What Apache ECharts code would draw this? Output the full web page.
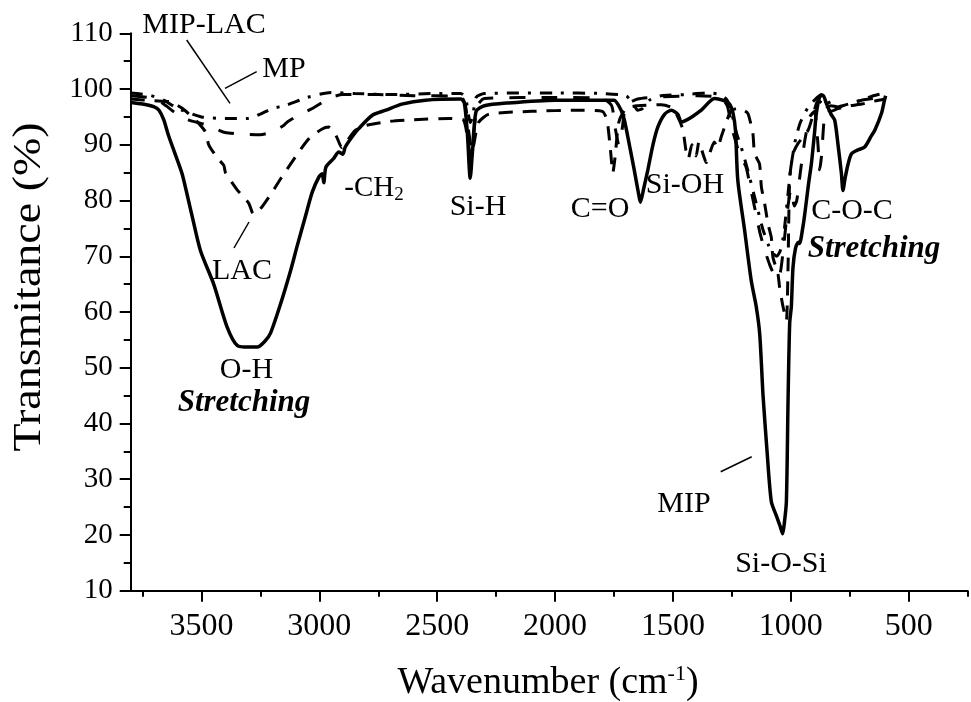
<!DOCTYPE html>
<html>
<head>
<meta charset="utf-8">
<script src="https://cdn.jsdelivr.net/npm/echarts@6/dist/echarts.min.js"></script>
<style>
html,body{margin:0;padding:0;background:#fff;}
#chart{width:971px;height:702px;}
</style>
</head>
<body>
<div id="chart"></div>
<script>
// ---- Data (wavenumber in cm-1, transmittance in %) ----
const xMajorTicks = [3500, 3000, 2500, 2000, 1500, 1000, 500];
const xMinorTicks = [3750, 3250, 2750, 2250, 1750, 1250, 750, 250];

const mipWave = [3800,3750,3700,3680,3660,3640,3600,3580,3540,3504,3448,3391,3348,3300,3263,3230,3207,3164,3122,3093,3060,3030,3002,2988,2981,2972,2940,2917,2900,2890,2860,2833,2775,2718,2650,2550,2400,2385,2372,2360,2350,2335,2300,2200,2000,1800,1750,1720,1706,1685,1664,1645,1638,1625,1607,1585,1564,1535,1507,1480,1465,1450,1420,1380,1324,1290,1260,1245,1235,1225,1196,1168,1147,1132,1118,1101,1083,1062,1045,1035,1028,1019,1012,1005,998,991,980,968,963,950,941,925,913,900,892,878,864,850,830,814,800,786,779,770,757,743,720,687,660,644,616,603,598];
const mipT    = [97.6,97.3,96.8,96.2,94.5,91.7,87,84.5,77.3,71,65,57.3,54,53.7,53.7,54.8,56.2,61.5,67.4,72,77,81.5,84.2,84.8,83.2,86,87.5,88.7,88.3,89.6,91.5,92.9,95.3,96.2,97.3,98,98.2,97.5,92,84,89,96,97,97.5,98,98,98,96.2,94.4,90,85.4,81,79.7,82,85.4,90,93.2,95.5,96.2,95.5,94.1,94.3,95,96.2,98.3,98,97.3,95.6,92.6,83.6,74.6,65.6,61,56,45,35,26,23.5,21.5,20.2,22,26,44,58,61,68,71.5,72.5,72.3,75,77.6,83,86.6,92,95.6,98.6,98.9,97.5,95.5,94.4,90,85,81.8,84,86.6,88.4,89,89.6,91.5,92.6,95.6,98,98.8];

const lacWave = [3800,3700,3630,3580,3520,3483,3469,3430,3405,3398,3350,3299,3280,3250,3200,3164,3087,3044,2990,2960,2940,2924,2905,2885,2850,2800,2700,2600,2450,2390,2372,2358,2345,2325,2280,2100,1900,1800,1780,1765,1755,1745,1730,1700,1650,1550,1500,1460,1445,1435,1420,1402,1390,1370,1359,1340,1325,1310,1295,1270,1255,1230,1200,1182,1161,1154,1133,1125,1111,1097,1083,1076,1055,1048,1033,1019,1012,1005,990,970,927,905,885,870,850,830,800,750,700,650,600];
const lacT    = [98.2,97.9,97.7,96.5,94.2,92.3,90,87.5,86.3,85,82,79.5,77.6,78.5,81.5,83.9,88.7,91.1,92.8,93.2,92.5,91.2,89.5,90.5,92.5,93.5,94.2,94.5,94.7,94.5,91.5,88,90,94,95.5,96,96.2,96,94.5,89,85,88,94,96.5,97,97.2,96.5,93,89,87.5,90,88,90.5,88,86.8,89,90.5,89.5,91.5,94.5,96,96.5,96.2,95.6,92,88.4,86.6,82.4,79.4,75.8,73.4,69.8,66.9,64.5,60.9,58.5,68,84,88.5,90.2,92.6,95.5,98,97.5,96.5,96,96.5,97,97.3,97.8,98.2];

const mipLacWave = [3800,3700,3650,3620,3560,3470,3420,3400,3330,3250,3200,3150,3136,3080,3030,2950,2900,2750,2600,2400,2380,2365,2355,2345,2330,2300,2000,1800,1760,1745,1730,1715,1700,1650,1550,1400,1300,1270,1250,1230,1215,1190,1170,1150,1130,1110,1090,1075,1060,1045,1030,1015,1000,985,975,960,940,920,900,885,878,870,860,850,830,800,750,700,650,600];
const mipLacT    = [98.8,98.3,97,96,94.5,93.5,92.5,92.2,91.9,91.8,92.3,93.5,94.1,95.5,96.5,98.5,99,99,98.8,98.7,97,92,89.5,92,97,98.3,98.5,98.3,97,93,90,93,97,98.2,98.6,98.8,98.5,97,93,90,88,86,82,78,74,71,68.5,67,66,67,72,78,82,79,80,85,91,95,96,90,85.5,88,94,96.5,97,96.8,97.5,98,98.3,98.8];

const mpWave = [3800,3720,3660,3600,3500,3400,3300,3250,3200,3140,3050,2950,2850,2700,2500,2400,2380,2360,2350,2335,2300,2000,1800,1700,1670,1650,1630,1600,1550,1450,1350,1300,1270,1250,1230,1210,1180,1150,1120,1095,1075,1060,1045,1030,1015,1000,980,960,930,900,870,850,830,810,780,740,700,650,600];
const mpT    = [99.3,98.9,98,96.5,95,94.7,94.7,95.5,96.5,97.1,98.5,99.4,99.2,99,99.2,99.2,98.5,94,95,98.5,99.2,99.3,99.2,98.8,97.5,96.2,96.5,98,98.8,99,99.3,99,98,95.5,92,89.5,85,80,75,72,70.5,70,71,74,80,86,91,94,96.5,98,99,98.5,97,96.5,97,97.5,98,98.8,99.3];

const xMin = 250, xMax = 3800;
const yMin = 10, yMax = 110, yStep = 10;

function pairs(w, t) { return w.map((v, i) => [v, t[i]]); }

const FONT = '"Liberation Serif", "DejaVu Serif", serif';
const chart = echarts.init(document.getElementById('chart'), null, {renderer: 'canvas'});

const baseX = {
  type: 'value', min: xMin, max: xMax, inverse: true, position: 'bottom',
  splitLine: {show: false}
};

const option = {
  animation: false,
  backgroundColor: '#fff',
  grid: {left: 130.7, right: 3.3, top: 33.3, bottom: 111.3, containLabel: false},
  xAxis: [
    Object.assign({}, baseX, {
      axisLine: {show: true, lineStyle: {color: '#000', width: 2}},
      axisTick: {show: true, customValues: xMajorTicks, length: 11, lineStyle: {color: '#000', width: 2}},
      axisLabel: {show: true, customValues: xMajorTicks, color: '#000', fontFamily: FONT, fontSize: 32, margin: 20,
                  formatter: v => String(v)}
    }),
    Object.assign({}, baseX, {
      axisLine: {show: false},
      axisTick: {show: true, customValues: xMinorTicks, length: 6, lineStyle: {color: '#000', width: 2}},
      axisLabel: {show: false}
    })
  ],
  yAxis: {
    type: 'value', min: yMin, max: yMax, interval: yStep,
    axisLine: {show: true, lineStyle: {color: '#000', width: 2}},
    axisTick: {show: true, length: 11, lineStyle: {color: '#000', width: 2}},
    minorTick: {show: true, splitNumber: 2, length: 7, lineStyle: {color: '#000', width: 2}},
    axisLabel: {color: '#000', fontFamily: FONT, fontSize: 29, margin: 18, formatter: v => String(v)},
    splitLine: {show: false}, minorSplitLine: {show: false}
  },
  series: [
    {name: 'MP', type: 'line', xAxisIndex: 0, data: pairs(mpWave, mpT), showSymbol: false, smooth: 0.2,
     lineStyle: {color: '#000', width: 3, type: [12, 9, 3, 9]}},
    {name: 'MIP-LAC', type: 'line', xAxisIndex: 0, data: pairs(mipLacWave, mipLacT), showSymbol: false, smooth: 0.2,
     lineStyle: {color: '#000', width: 3, type: [16, 16]}},
    {name: 'LAC', type: 'line', xAxisIndex: 0, data: pairs(lacWave, lacT), showSymbol: false, smooth: 0.2,
     lineStyle: {color: '#000', width: 3, type: [14, 10]}},
    {name: 'MIP', type: 'line', xAxisIndex: 0, data: pairs(mipWave, mipT), showSymbol: false, smooth: 0.25,
     lineStyle: {color: '#000', width: 3.5, type: 'solid'}}
  ],
  graphic: []
};

function txt(text, x, y, size, extra) {
  return {
    type: 'text', x: x, y: y, z: 100,
    style: Object.assign({text: text, fill: '#000', font: size + 'px ' + FONT, align: 'center', verticalAlign: 'middle'}, extra || {})
  };
}
function seg(x1, y1, x2, y2) {
  return {type: 'line', z: 100, shape: {x1: x1, y1: y1, x2: x2, y2: y2}, style: {stroke: '#000', lineWidth: 1.5}};
}
const BI = 'italic bold 31px ' + FONT;

option.graphic = [
  {type: 'text', x: 29, y: 287, rotation: Math.PI / 2, scaleX: 1.15, z: 100,
   style: {text: 'Transmitance (%)', fill: '#000', font: '40px ' + FONT, align: 'center', verticalAlign: 'middle'}},
  {type: 'text', x: 548, y: 683, z: 100,
   style: {text: '{a|Wavenumber (cm}{s|-1}{a|)}', align: 'center', verticalAlign: 'middle',
     rich: {a: {fontFamily: FONT, fontSize: 38, color: '#000'},
            s: {fontFamily: FONT, fontSize: 22, color: '#000', verticalAlign: 'top', padding: [0, 0, 18, 0]}}}},
  txt('MIP-LAC', 204, 25, 30),
  txt('MP', 284, 69, 30),
  seg(186.7, 40, 230, 103.3),
  seg(256.7, 71.7, 225, 88.3),
  {type: 'text', x: 374, y: 188, z: 100,
   style: {text: '{a|-CH}{s|2}', align: 'center', verticalAlign: 'middle',
     rich: {a: {fontFamily: FONT, fontSize: 29, color: '#000'},
            s: {fontFamily: FONT, fontSize: 19, color: '#000', padding: [14, 0, 0, 0]}}}},
  txt('LAC', 242, 271, 30),
  seg(234, 248, 249, 222),
  txt('O-H', 246.5, 370, 30),
  txt('Stretching', 244, 403, 31, {font: BI}),
  txt('Si-H', 478, 207, 30),
  txt('C=O', 600, 209, 30),
  txt('Si-OH', 685, 185, 30),
  txt('C-O-C', 852, 211, 30),
  txt('Stretching', 874, 249, 31, {font: BI}),
  txt('MIP', 684, 504, 30),
  seg(720.7, 471.7, 751.7, 456.7),
  txt('Si-O-Si', 781, 564, 30)
];

chart.setOption(option);
</script>
</body>
</html>
